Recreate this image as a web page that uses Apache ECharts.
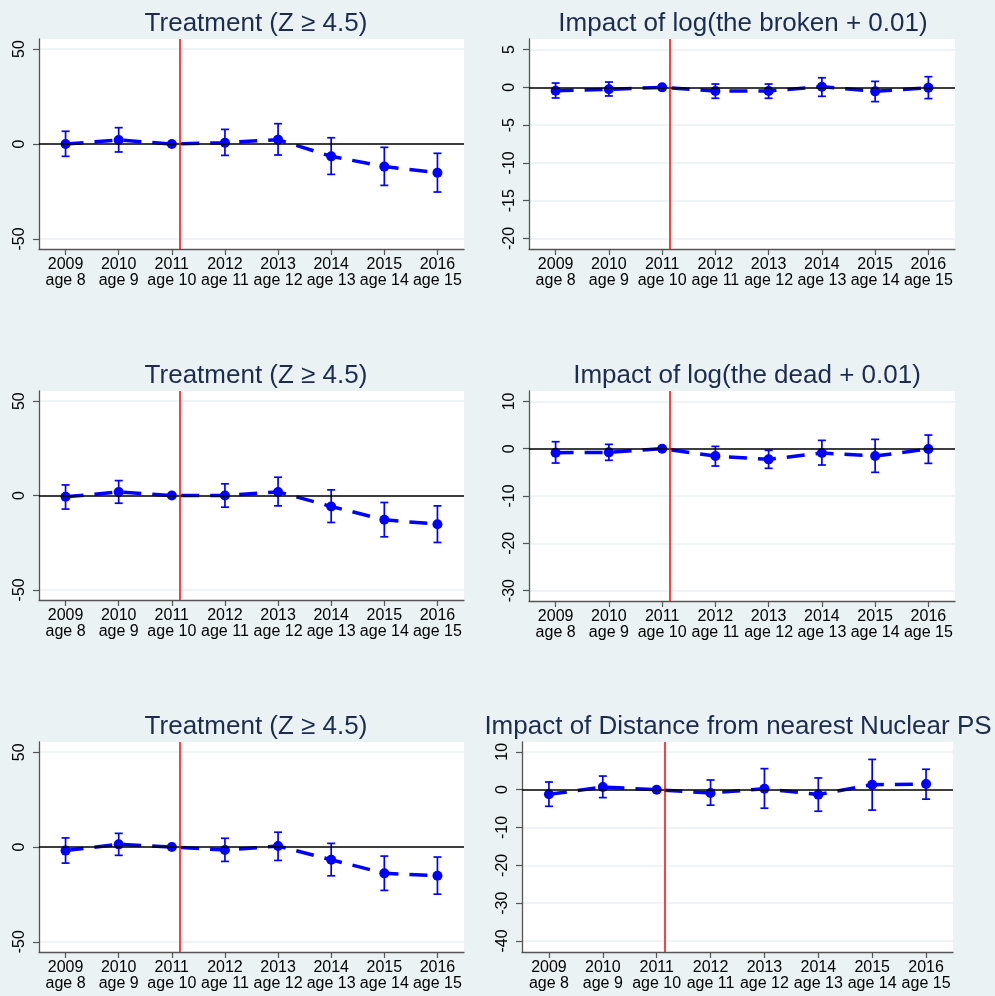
<!DOCTYPE html>
<html>
<head>
<meta charset="utf-8">
<script src="https://cdn.jsdelivr.net/npm/echarts@6/dist/echarts.min.js"></script>
<style>
  html, body { margin: 0; padding: 0; background: #eaf2f3; }
  #chart { width: 995px; height: 996px; }
</style>
</head>
<body>
<div id="chart"></div>
<script>
// Event-study coefficients with 95% confidence intervals, base year 2011
const years = [2009, 2010, 2011, 2012, 2013, 2014, 2015, 2016];
const ageLabels = ['age 8', 'age 9', 'age 10', 'age 11', 'age 12', 'age 13', 'age 14', 'age 15'];
const eventYear = 2011.15;

const panelTitles = [
  'Treatment (Z \u2265 4.5)',
  'Impact of log(the broken + 0.01)',
  'Treatment (Z \u2265 4.5)',
  'Impact of log(the dead + 0.01)',
  'Treatment (Z \u2265 4.5)',
  'Impact of Distance from nearest Nuclear PS'
];

const treatTopCoef = [0, 2.1, 0, 0.7, 2.3, -6.5, -11.9, -15.1];
const treatTopLow  = [-6.5, -4.2, 0, -6.0, -5.8, -16.0, -21.8, -25.3];
const treatTopHigh = [6.7, 8.6, 0, 7.7, 10.7, 3.3, -1.75, -4.9];

const brokenCoef = [-0.44, -0.26, 0, -0.48, -0.48, 0.09, -0.53, -0.04];
const brokenLow  = [-1.41, -1.14, 0, -1.45, -1.45, -1.19, -1.89, -1.49];
const brokenHigh = [0.57, 0.70, 0, 0.44, 0.44, 1.27, 0.79, 1.41];

const treatMidCoef = [-0.7, 1.9, 0, 0, 1.9, -5.8, -12.9, -15.2];
const treatMidLow  = [-7.2, -4.1, 0, -6.2, -5.5, -14.3, -21.9, -24.9];
const treatMidHigh = [5.6, 7.9, 0, 6.2, 9.7, 3.0, -3.7, -5.5];

const deadCoef = [-0.85, -0.77, 0, -1.55, -2.25, -0.92, -1.55, -0.07];
const deadLow  = [-3.03, -2.46, 0, -3.66, -4.15, -3.45, -5.0, -3.1];
const deadHigh = [1.48, 0.92, 0, 0.49, -0.35, 1.76, 1.97, 2.89];

const treatBotCoef = [-1.9, 1.4, 0, -1.6, 0.5, -6.7, -13.9, -15.2];
const treatBotLow  = [-8.5, -4.4, 0, -7.6, -7.1, -15.2, -22.9, -24.9];
const treatBotHigh = [4.8, 7.2, 0, 4.6, 7.8, 1.9, -4.8, -5.3];

const nuclearCoef = [-1.23, 0.7, 0, -0.9, 0.26, -1.3, 1.32, 1.5];
const nuclearLow  = [-4.4, -2.1, 0, -4.1, -4.9, -5.7, -5.4, -2.5];
const nuclearHigh = [2.03, 3.6, 0, 2.56, 5.56, 3.1, 8.0, 5.4];

const treatTicks = [-50, 0, 50];
const brokenTicks = [-20, -15, -10, -5, 0, 5];
const deadTicks = [-30, -20, -10, 0, 10];
const nuclearTicks = [-40, -30, -20, -10, 0, 10];

const panels = [
  { coef: treatTopCoef, low: treatTopLow, high: treatTopHigh, ticks: treatTicks, yMin: -55.3, yMax: 55.3,
    box: { left: 39, top: 39, width: 425, height: 210 }, titleX: 251, titleTop: 6 },
  { coef: brokenCoef, low: brokenLow, high: brokenHigh, ticks: brokenTicks, yMin: -21.4, yMax: 6.4,
    box: { left: 529, top: 39, width: 426, height: 210 }, titleX: 738, titleTop: 6 },
  { coef: treatMidCoef, low: treatMidLow, high: treatMidHigh, ticks: treatTicks, yMin: -55.4, yMax: 55.4,
    box: { left: 39, top: 391, width: 425, height: 209 }, titleX: 251, titleTop: 358 },
  { coef: deadCoef, low: deadLow, high: deadHigh, ticks: deadTicks, yMin: -32.2, yMax: 12.2,
    box: { left: 529, top: 391, width: 426, height: 210 }, titleX: 742, titleTop: 358 },
  { coef: treatBotCoef, low: treatBotLow, high: treatBotHigh, ticks: treatTicks, yMin: -55.4, yMax: 55.4,
    box: { left: 39, top: 742, width: 425, height: 210 }, titleX: 251, titleTop: 709 },
  { coef: nuclearCoef, low: nuclearLow, high: nuclearHigh, ticks: nuclearTicks, yMin: -42.9, yMax: 12.6,
    box: { left: 522, top: 742, width: 431, height: 210 }, titleX: 733, titleTop: 709 }
];

const FONT = '"Liberation Sans", Arial, sans-serif';
const AXIS_COLOR = '#555555';
const BLUE = '#0000ff';

const option = {
  backgroundColor: '#eaf2f3',
  animation: false,
  title: [],
  grid: [],
  xAxis: [],
  yAxis: [],
  series: []
};

panels.forEach((p, i) => {
  option.title.push({
    text: panelTitles[i],
    left: p.titleX,
    top: p.titleTop,
    textAlign: 'center',
    textStyle: { fontFamily: FONT, fontSize: 26, fontWeight: 'normal', color: '#1c2b50' }
  });

  option.grid.push(Object.assign({
    show: true,
    backgroundColor: '#ffffff',
    borderWidth: 0,
    containLabel: false
  }, p.box));

  option.xAxis.push({
    type: 'value',
    gridIndex: i,
    min: 2008.5,
    max: 2016.5,
    axisLine: { show: true, onZero: false, lineStyle: { color: AXIS_COLOR, width: 1.3 } },
    axisTick: { show: true, length: 6, customValues: years, lineStyle: { color: AXIS_COLOR, width: 1.2 } },
    splitLine: { show: false },
    axisLabel: {
      customValues: years,
      margin: 8,
      fontFamily: FONT,
      fontSize: 16,
      lineHeight: 16,
      color: '#000000',
      formatter: v => v + '\n' + ageLabels[years.indexOf(v)]
    }
  });

  option.yAxis.push({
    type: 'value',
    gridIndex: i,
    min: p.yMin,
    max: p.yMax,
    axisLine: { show: true, onZero: false, lineStyle: { color: AXIS_COLOR, width: 1.3 } },
    axisTick: { show: true, length: 6, customValues: p.ticks, lineStyle: { color: AXIS_COLOR, width: 1.2 } },
    splitLine: { show: true, lineStyle: { color: '#eaf2f3', width: 1.5 } },
    axisLabel: {
      customValues: p.ticks,
      rotate: 90,
      margin: 11,
      fontFamily: FONT,
      fontSize: 16,
      color: '#000000'
    }
  });

  // reference lines: zero effect and the event date
  option.series.push({
    type: 'line',
    xAxisIndex: i,
    yAxisIndex: i,
    data: [],
    z: 1,
    silent: true,
    markLine: {
      silent: true,
      symbol: 'none',
      label: { show: false },
      animation: false,
      data: [
        { yAxis: 0, lineStyle: { color: '#000000', width: 1.5, type: 'solid' } },
        { xAxis: eventYear, lineStyle: { color: '#ff0000', width: 1.5, type: 'solid' } }
      ]
    }
  });

  // confidence interval whiskers
  option.series.push({
    type: 'custom',
    xAxisIndex: i,
    yAxisIndex: i,
    z: 3,
    silent: true,
    encode: { x: 0, y: [1, 2] },
    data: years.map((y, k) => [y, p.low[k], p.high[k]]),
    renderItem: (params, api) => {
      const x = api.value(0);
      const lo = api.value(1);
      const hi = api.value(2);
      if (lo === hi) return null;
      const a = api.coord([x, lo]);
      const b = api.coord([x, hi]);
      const cap = 4;
      const st = { stroke: BLUE, lineWidth: 1.7 };
      return {
        type: 'group',
        children: [
          { type: 'line', shape: { x1: a[0], y1: a[1], x2: b[0], y2: b[1] }, style: st },
          { type: 'line', shape: { x1: a[0] - cap, y1: a[1], x2: a[0] + cap, y2: a[1] }, style: st },
          { type: 'line', shape: { x1: b[0] - cap, y1: b[1], x2: b[0] + cap, y2: b[1] }, style: st }
        ]
      };
    }
  });

  // point estimates
  option.series.push({
    type: 'line',
    xAxisIndex: i,
    yAxisIndex: i,
    z: 4,
    data: years.map((y, k) => [y, p.coef[k]]),
    symbol: 'circle',
    symbolSize: 10,
    showSymbol: true,
    itemStyle: { color: BLUE },
    lineStyle: { color: BLUE, width: 3.5, type: [18, 11] }
  });
});

const chart = echarts.init(document.getElementById('chart'), null, { renderer: 'canvas' });
chart.setOption(option);
</script>
</body>
</html>
